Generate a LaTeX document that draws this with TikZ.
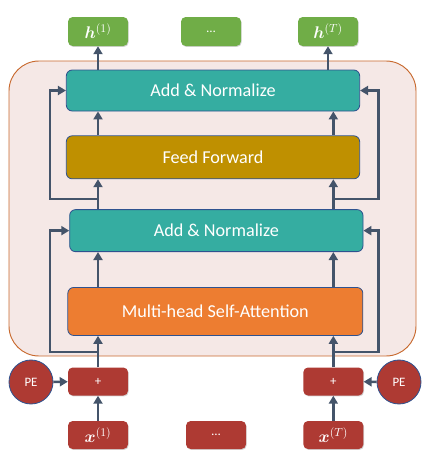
\documentclass[tikz,border=0pt]{standalone}
\usepackage{amsmath,bm}
\usepackage{fontspec}
\setmainfont{Carlito}
\usetikzlibrary{arrows.meta,positioning,shadows}

\definecolor{arrowc}{HTML}{44546A}
\definecolor{borderc}{HTML}{2F528F}
\definecolor{greenc}{HTML}{70AD47}
\definecolor{tealc}{HTML}{35ADA1}
\definecolor{goldc}{HTML}{BF9000}
\definecolor{orangec}{HTML}{ED7D31}
\definecolor{redc}{HTML}{AE3A33}
\definecolor{blockfill}{HTML}{F5E8E6}
\definecolor{blockline}{HTML}{C8692E}

\begin{document}
\begin{tikzpicture}[
  line/.style={-{Triangle[length=2.4mm,width=2.7mm]}, line width=2.2pt, draw=arrowc},
  layer/.style={draw=borderc, line width=0.7pt, rounded corners=5pt, align=center,
                minimum width=8.8cm, text=white, font=\fontsize{15.5}{18}\selectfont},
  token/.style={rounded corners=4pt, minimum width=1.8cm, minimum height=0.87cm,
                inner sep=0pt, text=white, font=\fontsize{14}{16}\selectfont,
                drop shadow={opacity=0.35, shadow xshift=0.6pt, shadow yshift=-0.8pt}},
  outtok/.style={token, fill=greenc},
  intok/.style={token, fill=redc, minimum height=0.84cm},
  pe/.style={circle, draw=borderc, line width=0.7pt, fill=redc, minimum size=1.32cm,
             inner sep=0pt, text=white, font=\fontsize{11}{13}\selectfont},
  block/.style={draw=blockline, line width=0.8pt, fill=blockfill, rounded corners=0.9cm}
]
\useasboundingbox (0,0) rectangle (12.66,-13.59);

% encoder block background
\draw[block] (0.27,-1.83) rectangle (12.48,-10.68);

% ---------------------------------------------------------------------------
% Layer stack
% ---------------------------------------------------------------------------
\node[layer, fill=tealc, minimum height=1.23cm] (antop) at (6.39,-2.715) {Add \& Normalize};
\node[layer, fill=goldc, minimum height=1.29cm, below=0.72cm of antop] (ff) {Feed Forward};
\node[layer, fill=tealc, minimum height=1.26cm, below=0.9cm of ff, xshift=0.1cm] (anbot) {Add \& Normalize};
\node[layer, fill=orangec, minimum height=1.44cm, minimum width=8.85cm,
      below=1.05cm of anbot, xshift=-0.03cm] (mhsa) {Multi-head Self-Attention};

% ---------------------------------------------------------------------------
% Outputs and inputs
% ---------------------------------------------------------------------------
\node[outtok] (h1) at (2.94,-0.945) {$\bm{h}^{(1)}$};
\node[outtok] (hdots) at (6.33,-0.945) {\fontsize{11}{13}\selectfont\dots};
\node[outtok] (hT) at (9.84,-0.945) {$\bm{h}^{(T)}$};

\node[intok] (plusL) at (2.94,-11.445) {\fontsize{11}{13}\selectfont +};
\node[intok] (plusR) at (10.0,-11.445) {\fontsize{11}{13}\selectfont +};
\node[pe] (peL) at (0.93,-11.46) {PE};
\node[pe] (peR) at (11.97,-11.46) {PE};

\node[intok] (x1) at (2.94,-13.05) {$\bm{x}^{(1)}$};
\node[intok] (xdots) at (6.48,-13.05) {\fontsize{11}{13}\selectfont\dots};
\node[intok] (xT) at (10.0,-13.05) {$\bm{x}^{(T)}$};

% ---------------------------------------------------------------------------
% Arrows
% ---------------------------------------------------------------------------
\draw[line] (x1) -- (plusL);
\draw[line] (xT) -- (plusR);
\draw[line] (peL) -- (plusL);
\draw[line] (peR) -- (plusR);

\foreach \col in {plusL,plusR}{
  \draw[line] (\col) -- (\col |- mhsa.south);
  \draw[line] (\col |- mhsa.north) -- (\col |- anbot.south);
  \draw[line] (\col |- anbot.north) -- (\col |- ff.south);
  \draw[line] (\col |- ff.north) -- (\col |- antop.south);
}
\draw[line] (antop.north -| h1) -- (h1);
\draw[line] (antop.north -| hT) -- (hT);

% residual connections
\coordinate (resLow) at (0,-10.56);
\coordinate (resHigh) at (0,-5.97);
\draw[line] (plusL |- resLow) -- ++(-1.44,0) |- (anbot.west);
\draw[line] (plusR |- resLow) -- ++(1.35,0) |- (anbot.east);
\draw[line] (plusL |- resHigh) -- ++(-1.44,0) |- (antop.west);
\draw[line] (plusR |- resHigh) -- ++(1.35,0) |- (antop.east);

\end{tikzpicture}
\end{document}
